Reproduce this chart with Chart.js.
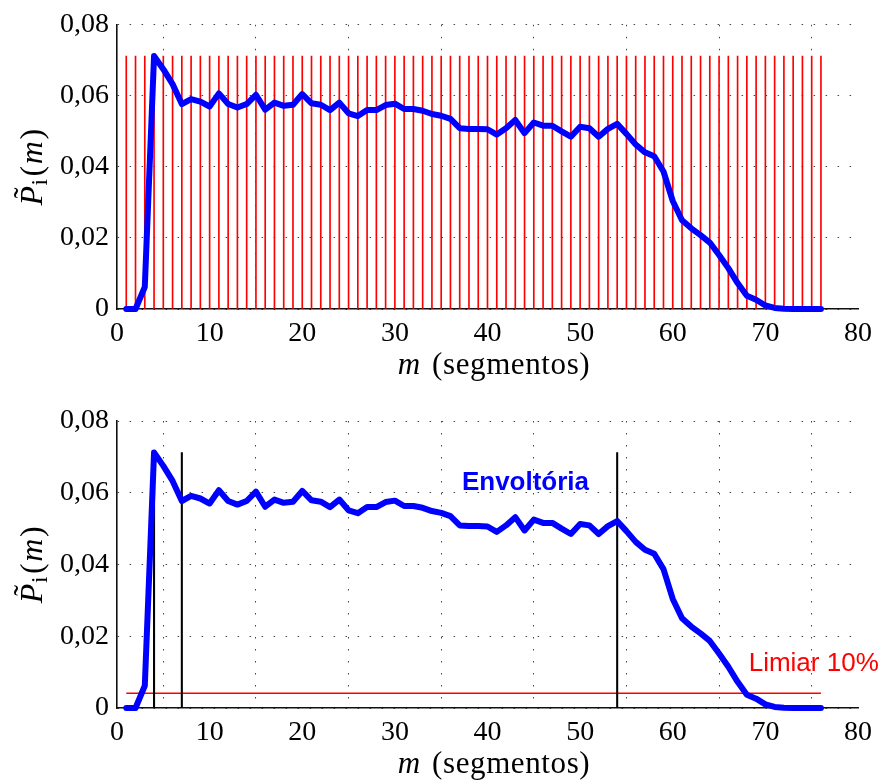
<!DOCTYPE html>
<html>
<head>
<meta charset="utf-8">
<script src="https://cdn.jsdelivr.net/npm/chart.js@4.4.1/dist/chart.umd.min.js"></script>
<style>
  html, body { margin: 0; padding: 0; background: #fff; }
  #wrap { width: 882px; height: 783px; position: relative; }
  canvas { display: block; }
</style>
</head>
<body>
<div id="wrap">
  <canvas id="top" width="882" height="392"></canvas>
  <canvas id="bottom" width="882" height="391"></canvas>
</div>
<script>
// ---------------- data ----------------
const segments = [1,2,3,4,5,6,7,8,9,10,11,12,13,14,15,16,17,18,19,20,
  21,22,23,24,25,26,27,28,29,30,31,32,33,34,35,36,37,38,39,40,
  41,42,43,44,45,46,47,48,49,50,51,52,53,54,55,56,57,58,59,60,
  61,62,63,64,65,66,67,68,69,70,71,72,73,74,75,76];
const envelope = [0,0,0.0062,0.0712,0.0675,0.0633,0.0577,0.0591,0.0584,0.0570,
  0.0607,0.0577,0.0567,0.0577,0.0603,0.0561,0.0581,0.0572,0.0575,0.0605,
  0.0579,0.0575,0.0560,0.0581,0.0551,0.0543,0.0560,0.0560,0.0574,0.0578,
  0.0563,0.0563,0.0558,0.0549,0.0544,0.0535,0.0509,0.0507,0.0507,0.0506,
  0.0491,0.0509,0.0532,0.0495,0.0525,0.0516,0.0516,0.0500,0.0485,0.0513,
  0.0509,0.0485,0.0507,0.0521,0.0493,0.0463,0.0441,0.0430,0.0387,0.0304,
  0.0250,0.0227,0.0208,0.0187,0.0152,0.0115,0.0073,0.0037,0.0026,0.0010,
  0.0003,0.0001,0,0,0,0];
const stemHeight = 0.0712;
const boundaryMarks = [4, 7, 54];
const markHeight = 0.0712;
const thresholdLevel = 0.0041;
const thresholdSpan = [1, 76];
const xTickValues = [0,10,20,30,40,50,60,70,80];
const yTickValues = [0,0.02,0.04,0.06,0.08];
const yTickLabels = ['0','0,02','0,04','0,06','0,08'];
const xTitleItalic = 'm';
const xTitleRest = ' (segmentos)';
const envelopeLabel = 'Envoltória';
const thresholdLabel = 'Limiar 10%';

// ---------------- helpers ----------------
const SERIF = "'Liberation Serif', 'Times New Roman', 'DejaVu Serif', serif";
const SANS = "'Liberation Sans', Arial, 'DejaVu Sans', sans-serif";

const envelopePoints = segments.map((m, i) => ({x: m, y: envelope[i]}));

const decor = {
  id: 'decor',
  afterDraw(chart, args, opts) {
    const {ctx, chartArea: a, scales: {x, y}} = chart;
    ctx.save();
    ctx.fillStyle = '#000';
    ctx.textBaseline = 'alphabetic';
    // x axis title
    const f = 31;
    try { ctx.letterSpacing = '0.6px'; } catch (e) {}
    ctx.font = `italic ${f}px ${SERIF}`;
    const w1 = ctx.measureText(xTitleItalic).width;
    ctx.font = `${f}px ${SERIF}`;
    const w2 = ctx.measureText(xTitleRest).width;
    const sx = (a.left + a.right) / 2 - (w1 + w2) / 2 + 5;
    const by = a.bottom + 65;
    ctx.font = `italic ${f}px ${SERIF}`;
    ctx.fillText(xTitleItalic, sx, by);
    ctx.font = `${f}px ${SERIF}`;
    ctx.fillText(xTitleRest, sx + w1 + 3, by);

    // y axis title: P~_i(m)
    ctx.save();
    ctx.translate(42, (a.top + a.bottom) / 2);
    ctx.rotate(-Math.PI / 2);
    const yf = 32;
    const parts = [
      {t: 'P', font: `italic ${yf}px ${SERIF}`, dy: 0, gap: 0},
      {t: 'i', font: `${Math.round(yf*0.72)}px ${SERIF}`, dy: 5, gap: 0},
      {t: '(', font: `${yf}px ${SERIF}`, dy: 0, gap: 2},
      {t: 'm', font: `italic ${yf}px ${SERIF}`, dy: 0, gap: 1},
      {t: ')', font: `${yf}px ${SERIF}`, dy: 0, gap: 1}
    ];
    let total = 0;
    parts.forEach(p => { ctx.font = p.font; p.w = ctx.measureText(p.t).width; total += p.w + p.gap; });
    let cx = -total / 2;
    parts.forEach((p, k) => {
      ctx.font = p.font;
      cx += p.gap;
      ctx.fillText(p.t, cx, p.dy);
      if (k === 0) {
        ctx.font = `${yf}px ${SERIF}`;
        const tw = ctx.measureText('\u02DC').width;
        ctx.fillText('\u02DC', cx + p.w / 2 - tw / 2 + 3, -7);
      }
      cx += p.w;
    });
    ctx.restore();
    try { ctx.letterSpacing = '0px'; } catch (e) {}

    // annotations
    (opts.labels || []).forEach(l => {
      ctx.font = l.font;
      ctx.fillStyle = l.color;
      ctx.textAlign = l.align;
      ctx.textBaseline = 'middle';
      ctx.fillText(l.text, x.getPixelForValue(l.x), y.getPixelForValue(l.y));
    });
    ctx.restore();
  }
};

function makeScales(canvasH, plotBottom) {
  return {
    x: {
      type: 'linear', min: 0, max: 80, offset: false,
      afterBuildTicks(s) { s.ticks = xTickValues.map(v => ({value: v})); },
      ticks: { font: {family: SERIF, size: 28}, color: '#000', padding: 8, maxRotation: 0, autoSkip: false,
               callback: v => String(v) },
      grid: { color: '#444', lineWidth: 1, drawTicks: false },
      border: { display: true, color: '#111', width: 1.6, dash: [1.5, 10.5] },
      afterFit(s) { s.height = canvasH - plotBottom; }
    },
    y: {
      type: 'linear', min: 0, max: 0.08,
      afterBuildTicks(s) { s.ticks = yTickValues.map(v => ({value: v})); },
      ticks: { font: {family: SERIF, size: 28}, color: '#000', padding: 8,
               callback: (v, i) => yTickLabels[i] },
      grid: { color: '#444', lineWidth: 1, drawTicks: false },
      border: { display: true, color: '#111', width: 1.6, dash: [1.5, 10.5] },
      afterFit(s) { s.width = 117; }
    }
  };
}

const envelopeDataset = {
  type: 'line', data: envelopePoints, borderColor: '#0000ff', borderWidth: 6,
  pointRadius: 0, tension: 0, fill: false, order: 0, clip: 8,
  borderJoinStyle: 'round', borderCapStyle: 'round'
};

const common = {
  responsive: false, animation: false, devicePixelRatio: 1,
  events: [],
  plugins: { legend: {display: false}, tooltip: {enabled: false} }
};

// ---------- top chart ----------
new Chart(document.getElementById('top'), {
  type: 'line',
  data: {
    datasets: [
      Object.assign({}, envelopeDataset),
      { type: 'bar', data: segments.map(m => ({x: m, y: stemHeight})),
        backgroundColor: '#ff0000', borderWidth: 0, barThickness: 1, order: 1 }
    ]
  },
  options: Object.assign({}, common, {
    layout: { padding: {top: 23, right: 24, left: 0, bottom: 0} },
    scales: makeScales(392, 309),
    plugins: Object.assign({}, common.plugins, { decor: { labels: [] } })
  }),
  plugins: [decor]
});

// ---------- bottom chart ----------
new Chart(document.getElementById('bottom'), {
  type: 'line',
  data: {
    datasets: [
      Object.assign({}, envelopeDataset),
      { type: 'bar', data: boundaryMarks.map(m => ({x: m, y: markHeight})),
        backgroundColor: '#000', borderWidth: 0, barThickness: 1.4, order: 1 },
      { type: 'line', data: thresholdSpan.map(m => ({x: m, y: thresholdLevel})),
        borderColor: '#ff0000', borderWidth: 1.4, pointRadius: 0, order: 2 }
    ]
  },
  options: Object.assign({}, common, {
    layout: { padding: {top: 29, right: 24, left: 0, bottom: 0} },
    scales: makeScales(391, 316),
    plugins: Object.assign({}, common.plugins, {
      decor: { labels: [
        { text: envelopeLabel, x: 44.1, y: 0.0627, color: '#0000ff', align: 'center', font: `bold 26px ${SANS}` },
        { text: thresholdLabel, x: 68.2, y: 0.0122, color: '#ff0000', align: 'left', font: `26px ${SANS}` }
      ] }
    })
  }),
  plugins: [decor]
});
</script>
</body>
</html>
